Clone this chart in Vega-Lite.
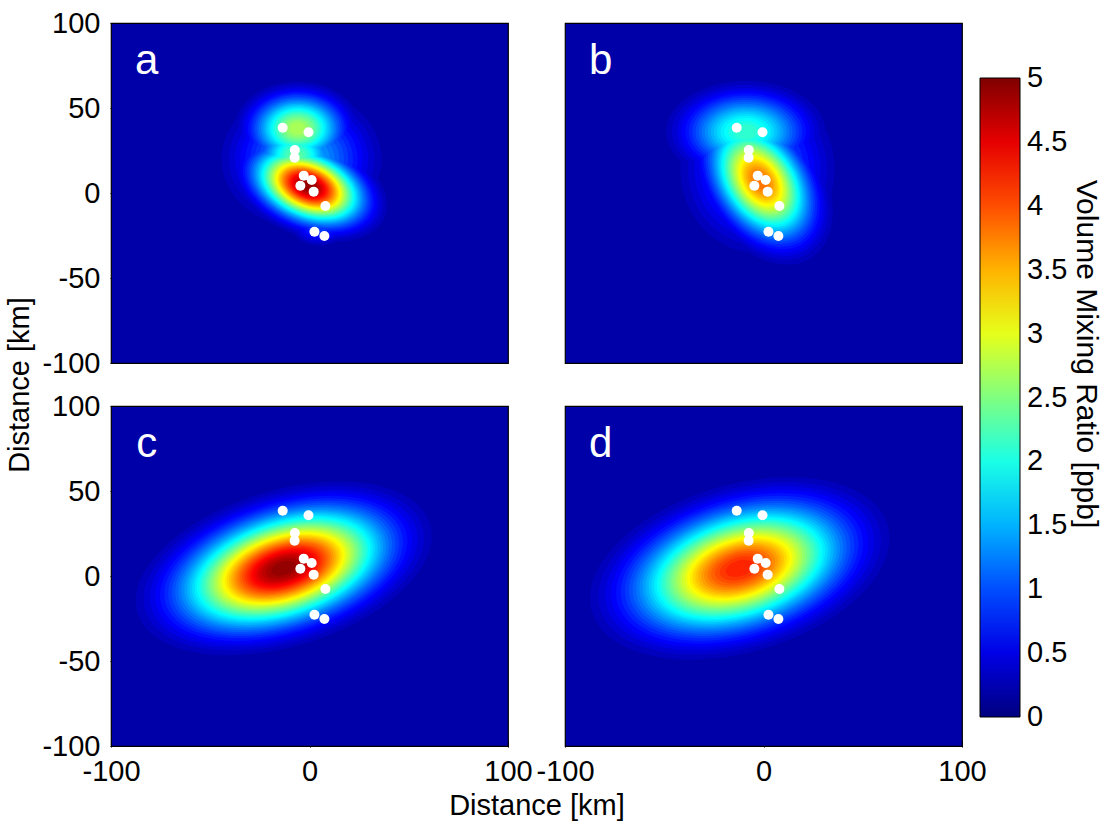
{
"$schema": "https://vega.github.io/schema/vega-lite/v6.json",
"padding": {"left": 5, "top": 9, "right": 2, "bottom": 2},
"data": {"values": [
{"row":2,"col":1,"k":"e","s":"c","x":-13,"y":4.5,"m":2.372,"v":0.3},
{"row":2,"col":1,"k":"e","s":"c","x":-13,"y":4.5,"m":2.248,"v":0.4},
{"row":2,"col":1,"k":"e","s":"c","x":-13,"y":4.5,"m":2.146,"v":0.5},
{"row":2,"col":1,"k":"e","s":"c","x":-13,"y":4.5,"m":2.059,"v":0.6},
{"row":2,"col":1,"k":"e","s":"c","x":-13,"y":4.5,"m":1.983,"v":0.7},
{"row":2,"col":1,"k":"e","s":"c","x":-13,"y":4.5,"m":1.914,"v":0.8},
{"row":2,"col":1,"k":"e","s":"c","x":-13,"y":4.5,"m":1.852,"v":0.9},
{"row":2,"col":1,"k":"e","s":"c","x":-13,"y":4.5,"m":1.794,"v":1.0},
{"row":2,"col":1,"k":"e","s":"c","x":-13,"y":4.5,"m":1.740,"v":1.1},
{"row":2,"col":1,"k":"e","s":"c","x":-13,"y":4.5,"m":1.689,"v":1.2},
{"row":2,"col":1,"k":"e","s":"c","x":-13,"y":4.5,"m":1.641,"v":1.3},
{"row":2,"col":1,"k":"e","s":"c","x":-13,"y":4.5,"m":1.596,"v":1.4},
{"row":2,"col":1,"k":"e","s":"c","x":-13,"y":4.5,"m":1.552,"v":1.5},
{"row":2,"col":1,"k":"e","s":"c","x":-13,"y":4.5,"m":1.510,"v":1.6},
{"row":2,"col":1,"k":"e","s":"c","x":-13,"y":4.5,"m":1.469,"v":1.7},
{"row":2,"col":1,"k":"e","s":"c","x":-13,"y":4.5,"m":1.429,"v":1.8},
{"row":2,"col":1,"k":"e","s":"c","x":-13,"y":4.5,"m":1.391,"v":1.9},
{"row":2,"col":1,"k":"e","s":"c","x":-13,"y":4.5,"m":1.354,"v":2.0},
{"row":2,"col":1,"k":"e","s":"c","x":-13,"y":4.5,"m":1.317,"v":2.1},
{"row":2,"col":1,"k":"e","s":"c","x":-13,"y":4.5,"m":1.281,"v":2.2},
{"row":2,"col":1,"k":"e","s":"c","x":-13,"y":4.5,"m":1.246,"v":2.3},
{"row":2,"col":1,"k":"e","s":"c","x":-13,"y":4.5,"m":1.212,"v":2.4},
{"row":2,"col":1,"k":"e","s":"c","x":-13,"y":4.5,"m":1.177,"v":2.5},
{"row":2,"col":1,"k":"e","s":"c","x":-13,"y":4.5,"m":1.144,"v":2.6},
{"row":2,"col":1,"k":"e","s":"c","x":-13,"y":4.5,"m":1.110,"v":2.7},
{"row":2,"col":1,"k":"e","s":"c","x":-13,"y":4.5,"m":1.077,"v":2.8},
{"row":2,"col":1,"k":"e","s":"c","x":-13,"y":4.5,"m":1.044,"v":2.9},
{"row":2,"col":1,"k":"e","s":"c","x":-13,"y":4.5,"m":1.011,"v":3.0},
{"row":2,"col":1,"k":"e","s":"c","x":-13,"y":4.5,"m":0.978,"v":3.1},
{"row":2,"col":1,"k":"e","s":"c","x":-13,"y":4.5,"m":0.945,"v":3.2},
{"row":2,"col":1,"k":"e","s":"c","x":-13,"y":4.5,"m":0.912,"v":3.3},
{"row":2,"col":1,"k":"e","s":"c","x":-13,"y":4.5,"m":0.878,"v":3.4},
{"row":2,"col":1,"k":"e","s":"c","x":-13,"y":4.5,"m":0.845,"v":3.5},
{"row":2,"col":1,"k":"e","s":"c","x":-13,"y":4.5,"m":0.811,"v":3.6},
{"row":2,"col":1,"k":"e","s":"c","x":-13,"y":4.5,"m":0.776,"v":3.7},
{"row":2,"col":1,"k":"e","s":"c","x":-13,"y":4.5,"m":0.741,"v":3.8},
{"row":2,"col":1,"k":"e","s":"c","x":-13,"y":4.5,"m":0.705,"v":3.9},
{"row":2,"col":1,"k":"e","s":"c","x":-13,"y":4.5,"m":0.668,"v":4.0},
{"row":2,"col":1,"k":"e","s":"c","x":-13,"y":4.5,"m":0.630,"v":4.1},
{"row":2,"col":1,"k":"e","s":"c","x":-13,"y":4.5,"m":0.591,"v":4.2},
{"row":2,"col":1,"k":"e","s":"c","x":-13,"y":4.5,"m":0.549,"v":4.3},
{"row":2,"col":1,"k":"e","s":"c","x":-13,"y":4.5,"m":0.506,"v":4.4},
{"row":2,"col":1,"k":"e","s":"c","x":-13,"y":4.5,"m":0.459,"v":4.5},
{"row":2,"col":1,"k":"e","s":"c","x":-13,"y":4.5,"m":0.408,"v":4.6},
{"row":2,"col":1,"k":"e","s":"c","x":-13,"y":4.5,"m":0.352,"v":4.7},
{"row":2,"col":1,"k":"e","s":"c","x":-13,"y":4.5,"m":0.286,"v":4.8},
{"row":2,"col":1,"k":"e","s":"c","x":-13,"y":4.5,"m":0.201,"v":4.9},
{"row":2,"col":2,"k":"e","s":"d","x":-12,"y":4.5,"m":2.308,"v":0.3},
{"row":2,"col":2,"k":"e","s":"d","x":-12,"y":4.5,"m":2.179,"v":0.4},
{"row":2,"col":2,"k":"e","s":"d","x":-12,"y":4.5,"m":2.074,"v":0.5},
{"row":2,"col":2,"k":"e","s":"d","x":-12,"y":4.5,"m":1.985,"v":0.6},
{"row":2,"col":2,"k":"e","s":"d","x":-12,"y":4.5,"m":1.905,"v":0.7},
{"row":2,"col":2,"k":"e","s":"d","x":-12,"y":4.5,"m":1.834,"v":0.8},
{"row":2,"col":2,"k":"e","s":"d","x":-12,"y":4.5,"m":1.769,"v":0.9},
{"row":2,"col":2,"k":"e","s":"d","x":-12,"y":4.5,"m":1.708,"v":1.0},
{"row":2,"col":2,"k":"e","s":"d","x":-12,"y":4.5,"m":1.651,"v":1.1},
{"row":2,"col":2,"k":"e","s":"d","x":-12,"y":4.5,"m":1.598,"v":1.2},
{"row":2,"col":2,"k":"e","s":"d","x":-12,"y":4.5,"m":1.547,"v":1.3},
{"row":2,"col":2,"k":"e","s":"d","x":-12,"y":4.5,"m":1.498,"v":1.4},
{"row":2,"col":2,"k":"e","s":"d","x":-12,"y":4.5,"m":1.451,"v":1.5},
{"row":2,"col":2,"k":"e","s":"d","x":-12,"y":4.5,"m":1.406,"v":1.6},
{"row":2,"col":2,"k":"e","s":"d","x":-12,"y":4.5,"m":1.362,"v":1.7},
{"row":2,"col":2,"k":"e","s":"d","x":-12,"y":4.5,"m":1.320,"v":1.8},
{"row":2,"col":2,"k":"e","s":"d","x":-12,"y":4.5,"m":1.278,"v":1.9},
{"row":2,"col":2,"k":"e","s":"d","x":-12,"y":4.5,"m":1.237,"v":2.0},
{"row":2,"col":2,"k":"e","s":"d","x":-12,"y":4.5,"m":1.197,"v":2.1},
{"row":2,"col":2,"k":"e","s":"d","x":-12,"y":4.5,"m":1.158,"v":2.2},
{"row":2,"col":2,"k":"e","s":"d","x":-12,"y":4.5,"m":1.119,"v":2.3},
{"row":2,"col":2,"k":"e","s":"d","x":-12,"y":4.5,"m":1.080,"v":2.4},
{"row":2,"col":2,"k":"e","s":"d","x":-12,"y":4.5,"m":1.041,"v":2.5},
{"row":2,"col":2,"k":"e","s":"d","x":-12,"y":4.5,"m":1.003,"v":2.6},
{"row":2,"col":2,"k":"e","s":"d","x":-12,"y":4.5,"m":0.965,"v":2.7},
{"row":2,"col":2,"k":"e","s":"d","x":-12,"y":4.5,"m":0.926,"v":2.8},
{"row":2,"col":2,"k":"e","s":"d","x":-12,"y":4.5,"m":0.888,"v":2.9},
{"row":2,"col":2,"k":"e","s":"d","x":-12,"y":4.5,"m":0.849,"v":3.0},
{"row":2,"col":2,"k":"e","s":"d","x":-12,"y":4.5,"m":0.809,"v":3.1},
{"row":2,"col":2,"k":"e","s":"d","x":-12,"y":4.5,"m":0.769,"v":3.2},
{"row":2,"col":2,"k":"e","s":"d","x":-12,"y":4.5,"m":0.728,"v":3.3},
{"row":2,"col":2,"k":"e","s":"d","x":-12,"y":4.5,"m":0.685,"v":3.4},
{"row":2,"col":2,"k":"e","s":"d","x":-12,"y":4.5,"m":0.642,"v":3.5},
{"row":2,"col":2,"k":"e","s":"d","x":-12,"y":4.5,"m":0.596,"v":3.6},
{"row":2,"col":2,"k":"e","s":"d","x":-12,"y":4.5,"m":0.548,"v":3.7},
{"row":2,"col":2,"k":"e","s":"d","x":-12,"y":4.5,"m":0.497,"v":3.8},
{"row":2,"col":2,"k":"e","s":"d","x":-12,"y":4.5,"m":0.442,"v":3.9},
{"row":2,"col":2,"k":"e","s":"d","x":-12,"y":4.5,"m":0.380,"v":4.0},
{"row":2,"col":2,"k":"e","s":"d","x":-12,"y":4.5,"m":0.309,"v":4.1},
{"row":2,"col":2,"k":"e","s":"d","x":-12,"y":4.5,"m":0.217,"v":4.2},
{"row":1,"col":1,"k":"e","s":"aM","x":-0.5,"y":4,"m":2.372,"v":0.3},
{"row":1,"col":1,"k":"e","s":"aM","x":-0.5,"y":4,"m":2.248,"v":0.4},
{"row":1,"col":1,"k":"e","s":"aM","x":-0.5,"y":4,"m":2.146,"v":0.5},
{"row":1,"col":1,"k":"e","s":"aM","x":-0.5,"y":4,"m":2.059,"v":0.6},
{"row":1,"col":1,"k":"e","s":"aM","x":-0.5,"y":4,"m":1.983,"v":0.7},
{"row":1,"col":1,"k":"e","s":"aM","x":-0.5,"y":4,"m":1.914,"v":0.8},
{"row":1,"col":1,"k":"e","s":"aM","x":-0.5,"y":4,"m":1.852,"v":0.9},
{"row":1,"col":1,"k":"e","s":"aM","x":-0.5,"y":4,"m":1.794,"v":1.0},
{"row":1,"col":1,"k":"e","s":"aM","x":-0.5,"y":4,"m":1.740,"v":1.1},
{"row":1,"col":1,"k":"e","s":"aM","x":-0.5,"y":4,"m":1.689,"v":1.2},
{"row":1,"col":1,"k":"e","s":"aM","x":-0.5,"y":4,"m":1.641,"v":1.3},
{"row":1,"col":1,"k":"e","s":"aM","x":-0.5,"y":4,"m":1.596,"v":1.4},
{"row":1,"col":1,"k":"e","s":"aM","x":-0.5,"y":4,"m":1.552,"v":1.5},
{"row":1,"col":1,"k":"e","s":"aM","x":-0.5,"y":4,"m":1.510,"v":1.6},
{"row":1,"col":1,"k":"e","s":"aM","x":-0.5,"y":4,"m":1.469,"v":1.7},
{"row":1,"col":1,"k":"e","s":"aM","x":-0.5,"y":4,"m":1.429,"v":1.8},
{"row":1,"col":1,"k":"e","s":"aM","x":-0.5,"y":4,"m":1.391,"v":1.9},
{"row":1,"col":1,"k":"e","s":"aM","x":-0.5,"y":4,"m":1.354,"v":2.0},
{"row":1,"col":1,"k":"e","s":"aM","x":-0.5,"y":4,"m":1.317,"v":2.1},
{"row":1,"col":1,"k":"e","s":"aM","x":-0.5,"y":4,"m":1.281,"v":2.2},
{"row":1,"col":1,"k":"e","s":"aM","x":-0.5,"y":4,"m":1.246,"v":2.3},
{"row":1,"col":1,"k":"e","s":"aM","x":-0.5,"y":4,"m":1.212,"v":2.4},
{"row":1,"col":1,"k":"e","s":"aM","x":-0.5,"y":4,"m":1.177,"v":2.5},
{"row":1,"col":1,"k":"e","s":"aM","x":-0.5,"y":4,"m":1.144,"v":2.6},
{"row":1,"col":1,"k":"e","s":"aM","x":-0.5,"y":4,"m":1.110,"v":2.7},
{"row":1,"col":1,"k":"e","s":"aM","x":-0.5,"y":4,"m":1.077,"v":2.8},
{"row":1,"col":1,"k":"e","s":"aM","x":-0.5,"y":4,"m":1.044,"v":2.9},
{"row":1,"col":1,"k":"e","s":"aM","x":-0.5,"y":4,"m":1.011,"v":3.0},
{"row":1,"col":1,"k":"e","s":"aM","x":-0.5,"y":4,"m":0.978,"v":3.1},
{"row":1,"col":1,"k":"e","s":"aM","x":-0.5,"y":4,"m":0.945,"v":3.2},
{"row":1,"col":1,"k":"e","s":"aM","x":-0.5,"y":4,"m":0.912,"v":3.3},
{"row":1,"col":1,"k":"e","s":"aM","x":-0.5,"y":4,"m":0.878,"v":3.4},
{"row":1,"col":1,"k":"e","s":"aM","x":-0.5,"y":4,"m":0.845,"v":3.5},
{"row":1,"col":1,"k":"e","s":"aM","x":-0.5,"y":4,"m":0.811,"v":3.6},
{"row":1,"col":1,"k":"e","s":"aM","x":-0.5,"y":4,"m":0.776,"v":3.7},
{"row":1,"col":1,"k":"e","s":"aM","x":-0.5,"y":4,"m":0.741,"v":3.8},
{"row":1,"col":1,"k":"e","s":"aM","x":-0.5,"y":4,"m":0.705,"v":3.9},
{"row":1,"col":1,"k":"e","s":"aM","x":-0.5,"y":4,"m":0.668,"v":4.0},
{"row":1,"col":1,"k":"e","s":"aM","x":-0.5,"y":4,"m":0.630,"v":4.1},
{"row":1,"col":1,"k":"e","s":"aM","x":-0.5,"y":4,"m":0.591,"v":4.2},
{"row":1,"col":1,"k":"e","s":"aM","x":-0.5,"y":4,"m":0.549,"v":4.3},
{"row":1,"col":1,"k":"e","s":"aM","x":-0.5,"y":4,"m":0.506,"v":4.4},
{"row":1,"col":1,"k":"e","s":"aM","x":-0.5,"y":4,"m":0.459,"v":4.5},
{"row":1,"col":1,"k":"e","s":"aM","x":-0.5,"y":4,"m":0.408,"v":4.6},
{"row":1,"col":1,"k":"e","s":"aM","x":-0.5,"y":4,"m":0.352,"v":4.7},
{"row":1,"col":1,"k":"e","s":"aM","x":-0.5,"y":4,"m":0.286,"v":4.8},
{"row":1,"col":1,"k":"e","s":"aM","x":-0.5,"y":4,"m":0.201,"v":4.9},
{"row":1,"col":1,"k":"e","s":"aU","x":-6,"y":38,"m":2.114,"v":0.3},
{"row":1,"col":1,"k":"e","s":"aU","x":-6,"y":38,"m":1.973,"v":0.4},
{"row":1,"col":1,"k":"e","s":"aU","x":-6,"y":38,"m":1.856,"v":0.5},
{"row":1,"col":1,"k":"e","s":"aU","x":-6,"y":38,"m":1.755,"v":0.6},
{"row":1,"col":1,"k":"e","s":"aU","x":-6,"y":38,"m":1.665,"v":0.7},
{"row":1,"col":1,"k":"e","s":"aU","x":-6,"y":38,"m":1.583,"v":0.8},
{"row":1,"col":1,"k":"e","s":"aU","x":-6,"y":38,"m":1.507,"v":0.9},
{"row":1,"col":1,"k":"e","s":"aU","x":-6,"y":38,"m":1.435,"v":1.0},
{"row":1,"col":1,"k":"e","s":"aU","x":-6,"y":38,"m":1.367,"v":1.1},
{"row":1,"col":1,"k":"e","s":"aU","x":-6,"y":38,"m":1.302,"v":1.2},
{"row":1,"col":1,"k":"e","s":"aU","x":-6,"y":38,"m":1.239,"v":1.3},
{"row":1,"col":1,"k":"e","s":"aU","x":-6,"y":38,"m":1.177,"v":1.4},
{"row":1,"col":1,"k":"e","s":"aU","x":-6,"y":38,"m":1.117,"v":1.5},
{"row":1,"col":1,"k":"e","s":"aU","x":-6,"y":38,"m":1.058,"v":1.6},
{"row":1,"col":1,"k":"e","s":"aU","x":-6,"y":38,"m":0.999,"v":1.7},
{"row":1,"col":1,"k":"e","s":"aU","x":-6,"y":38,"m":0.940,"v":1.8},
{"row":1,"col":1,"k":"e","s":"aU","x":-6,"y":38,"m":0.881,"v":1.9},
{"row":1,"col":1,"k":"e","s":"aU","x":-6,"y":38,"m":0.820,"v":2.0},
{"row":1,"col":1,"k":"e","s":"aU","x":-6,"y":38,"m":0.759,"v":2.1},
{"row":1,"col":1,"k":"e","s":"aU","x":-6,"y":38,"m":0.694,"v":2.2},
{"row":1,"col":1,"k":"e","s":"aU","x":-6,"y":38,"m":0.627,"v":2.3},
{"row":1,"col":1,"k":"e","s":"aU","x":-6,"y":38,"m":0.555,"v":2.4},
{"row":1,"col":1,"k":"e","s":"aU","x":-6,"y":38,"m":0.476,"v":2.5},
{"row":1,"col":1,"k":"e","s":"aU","x":-6,"y":38,"m":0.385,"v":2.6},
{"row":1,"col":1,"k":"e","s":"aU","x":-6,"y":38,"m":0.269,"v":2.7},
{"row":1,"col":1,"k":"e","s":"aC","x":-7,"y":22,"m":1.665,"v":0.6},
{"row":1,"col":1,"k":"e","s":"aC","x":-7,"y":22,"m":1.570,"v":0.7},
{"row":1,"col":1,"k":"e","s":"aC","x":-7,"y":22,"m":1.482,"v":0.8},
{"row":1,"col":1,"k":"e","s":"aC","x":-7,"y":22,"m":1.401,"v":0.9},
{"row":1,"col":1,"k":"e","s":"aC","x":-7,"y":22,"m":1.323,"v":1.0},
{"row":1,"col":1,"k":"e","s":"aC","x":-7,"y":22,"m":1.249,"v":1.1},
{"row":1,"col":1,"k":"e","s":"aC","x":-7,"y":22,"m":1.177,"v":1.2},
{"row":1,"col":1,"k":"e","s":"aC","x":-7,"y":22,"m":1.107,"v":1.3},
{"row":1,"col":1,"k":"e","s":"aC","x":-7,"y":22,"m":1.038,"v":1.4},
{"row":1,"col":1,"k":"e","s":"aC","x":-7,"y":22,"m":0.970,"v":1.5},
{"row":1,"col":1,"k":"e","s":"aC","x":-7,"y":22,"m":0.901,"v":1.6},
{"row":1,"col":1,"k":"e","s":"aC","x":-7,"y":22,"m":0.831,"v":1.7},
{"row":1,"col":1,"k":"e","s":"aC","x":-7,"y":22,"m":0.759,"v":1.8},
{"row":1,"col":1,"k":"e","s":"aC","x":-7,"y":22,"m":0.684,"v":1.9},
{"row":1,"col":1,"k":"e","s":"aC","x":-7,"y":22,"m":0.604,"v":2.0},
{"row":1,"col":1,"k":"e","s":"aC","x":-7,"y":22,"m":0.517,"v":2.1},
{"row":1,"col":1,"k":"e","s":"aC","x":-7,"y":22,"m":0.417,"v":2.2},
{"row":1,"col":1,"k":"e","s":"aC","x":-7,"y":22,"m":0.292,"v":2.3},
{"row":1,"col":1,"k":"e","s":"aB","x":-4,"y":20,"m":1.830,"v":0.3},
{"row":1,"col":1,"k":"e","s":"aB","x":-4,"y":20,"m":1.665,"v":0.4},
{"row":1,"col":1,"k":"e","s":"aB","x":-4,"y":20,"m":1.525,"v":0.5},
{"row":1,"col":1,"k":"e","s":"aB","x":-4,"y":20,"m":1.401,"v":0.6},
{"row":1,"col":1,"k":"e","s":"aB","x":-4,"y":20,"m":1.286,"v":0.7},
{"row":1,"col":1,"k":"e","s":"aB","x":-4,"y":20,"m":1.177,"v":0.8},
{"row":1,"col":1,"k":"e","s":"aB","x":-4,"y":20,"m":1.073,"v":0.9},
{"row":1,"col":1,"k":"e","s":"aB","x":-4,"y":20,"m":0.970,"v":1.0},
{"row":1,"col":1,"k":"e","s":"aB","x":-4,"y":20,"m":0.866,"v":1.1},
{"row":1,"col":1,"k":"e","s":"aB","x":-4,"y":20,"m":0.759,"v":1.2},
{"row":1,"col":1,"k":"e","s":"aB","x":-4,"y":20,"m":0.644,"v":1.3},
{"row":1,"col":1,"k":"e","s":"aB","x":-4,"y":20,"m":0.517,"v":1.4},
{"row":1,"col":1,"k":"e","s":"aB","x":-4,"y":20,"m":0.359,"v":1.5},
{"row":1,"col":1,"k":"e","s":"aT","x":5,"y":-20,"m":1.552,"v":0.3},
{"row":1,"col":1,"k":"e","s":"aT","x":5,"y":-20,"m":1.354,"v":0.4},
{"row":1,"col":1,"k":"e","s":"aT","x":5,"y":-20,"m":1.177,"v":0.5},
{"row":1,"col":1,"k":"e","s":"aT","x":5,"y":-20,"m":1.011,"v":0.6},
{"row":1,"col":1,"k":"e","s":"aT","x":5,"y":-20,"m":0.845,"v":0.7},
{"row":1,"col":1,"k":"e","s":"aT","x":5,"y":-20,"m":0.668,"v":0.8},
{"row":1,"col":1,"k":"e","s":"aT","x":5,"y":-20,"m":0.459,"v":0.9},
{"row":1,"col":2,"k":"e","s":"bM","x":-1.5,"y":7,"m":2.265,"v":0.3},
{"row":1,"col":2,"k":"e","s":"bM","x":-1.5,"y":7,"m":2.134,"v":0.4},
{"row":1,"col":2,"k":"e","s":"bM","x":-1.5,"y":7,"m":2.027,"v":0.5},
{"row":1,"col":2,"k":"e","s":"bM","x":-1.5,"y":7,"m":1.935,"v":0.6},
{"row":1,"col":2,"k":"e","s":"bM","x":-1.5,"y":7,"m":1.853,"v":0.7},
{"row":1,"col":2,"k":"e","s":"bM","x":-1.5,"y":7,"m":1.780,"v":0.8},
{"row":1,"col":2,"k":"e","s":"bM","x":-1.5,"y":7,"m":1.713,"v":0.9},
{"row":1,"col":2,"k":"e","s":"bM","x":-1.5,"y":7,"m":1.650,"v":1.0},
{"row":1,"col":2,"k":"e","s":"bM","x":-1.5,"y":7,"m":1.591,"v":1.1},
{"row":1,"col":2,"k":"e","s":"bM","x":-1.5,"y":7,"m":1.535,"v":1.2},
{"row":1,"col":2,"k":"e","s":"bM","x":-1.5,"y":7,"m":1.482,"v":1.3},
{"row":1,"col":2,"k":"e","s":"bM","x":-1.5,"y":7,"m":1.431,"v":1.4},
{"row":1,"col":2,"k":"e","s":"bM","x":-1.5,"y":7,"m":1.382,"v":1.5},
{"row":1,"col":2,"k":"e","s":"bM","x":-1.5,"y":7,"m":1.335,"v":1.6},
{"row":1,"col":2,"k":"e","s":"bM","x":-1.5,"y":7,"m":1.289,"v":1.7},
{"row":1,"col":2,"k":"e","s":"bM","x":-1.5,"y":7,"m":1.244,"v":1.8},
{"row":1,"col":2,"k":"e","s":"bM","x":-1.5,"y":7,"m":1.199,"v":1.9},
{"row":1,"col":2,"k":"e","s":"bM","x":-1.5,"y":7,"m":1.156,"v":2.0},
{"row":1,"col":2,"k":"e","s":"bM","x":-1.5,"y":7,"m":1.113,"v":2.1},
{"row":1,"col":2,"k":"e","s":"bM","x":-1.5,"y":7,"m":1.070,"v":2.2},
{"row":1,"col":2,"k":"e","s":"bM","x":-1.5,"y":7,"m":1.028,"v":2.3},
{"row":1,"col":2,"k":"e","s":"bM","x":-1.5,"y":7,"m":0.985,"v":2.4},
{"row":1,"col":2,"k":"e","s":"bM","x":-1.5,"y":7,"m":0.943,"v":2.5},
{"row":1,"col":2,"k":"e","s":"bM","x":-1.5,"y":7,"m":0.901,"v":2.6},
{"row":1,"col":2,"k":"e","s":"bM","x":-1.5,"y":7,"m":0.858,"v":2.7},
{"row":1,"col":2,"k":"e","s":"bM","x":-1.5,"y":7,"m":0.814,"v":2.8},
{"row":1,"col":2,"k":"e","s":"bM","x":-1.5,"y":7,"m":0.770,"v":2.9},
{"row":1,"col":2,"k":"e","s":"bM","x":-1.5,"y":7,"m":0.724,"v":3.0},
{"row":1,"col":2,"k":"e","s":"bM","x":-1.5,"y":7,"m":0.678,"v":3.1},
{"row":1,"col":2,"k":"e","s":"bM","x":-1.5,"y":7,"m":0.629,"v":3.2},
{"row":1,"col":2,"k":"e","s":"bM","x":-1.5,"y":7,"m":0.578,"v":3.3},
{"row":1,"col":2,"k":"e","s":"bM","x":-1.5,"y":7,"m":0.524,"v":3.4},
{"row":1,"col":2,"k":"e","s":"bM","x":-1.5,"y":7,"m":0.465,"v":3.5},
{"row":1,"col":2,"k":"e","s":"bM","x":-1.5,"y":7,"m":0.400,"v":3.6},
{"row":1,"col":2,"k":"e","s":"bM","x":-1.5,"y":7,"m":0.325,"v":3.7},
{"row":1,"col":2,"k":"e","s":"bM","x":-1.5,"y":7,"m":0.228,"v":3.8},
{"row":1,"col":2,"k":"e","s":"bU","x":-9,"y":36,"m":1.996,"v":0.3},
{"row":1,"col":2,"k":"e","s":"bU","x":-9,"y":36,"m":1.847,"v":0.4},
{"row":1,"col":2,"k":"e","s":"bU","x":-9,"y":36,"m":1.721,"v":0.5},
{"row":1,"col":2,"k":"e","s":"bU","x":-9,"y":36,"m":1.612,"v":0.6},
{"row":1,"col":2,"k":"e","s":"bU","x":-9,"y":36,"m":1.513,"v":0.7},
{"row":1,"col":2,"k":"e","s":"bU","x":-9,"y":36,"m":1.422,"v":0.8},
{"row":1,"col":2,"k":"e","s":"bU","x":-9,"y":36,"m":1.337,"v":0.9},
{"row":1,"col":2,"k":"e","s":"bU","x":-9,"y":36,"m":1.256,"v":1.0},
{"row":1,"col":2,"k":"e","s":"bU","x":-9,"y":36,"m":1.177,"v":1.1},
{"row":1,"col":2,"k":"e","s":"bU","x":-9,"y":36,"m":1.101,"v":1.2},
{"row":1,"col":2,"k":"e","s":"bU","x":-9,"y":36,"m":1.026,"v":1.3},
{"row":1,"col":2,"k":"e","s":"bU","x":-9,"y":36,"m":0.951,"v":1.4},
{"row":1,"col":2,"k":"e","s":"bU","x":-9,"y":36,"m":0.875,"v":1.5},
{"row":1,"col":2,"k":"e","s":"bU","x":-9,"y":36,"m":0.798,"v":1.6},
{"row":1,"col":2,"k":"e","s":"bU","x":-9,"y":36,"m":0.718,"v":1.7},
{"row":1,"col":2,"k":"e","s":"bU","x":-9,"y":36,"m":0.634,"v":1.8},
{"row":1,"col":2,"k":"e","s":"bU","x":-9,"y":36,"m":0.541,"v":1.9},
{"row":1,"col":2,"k":"e","s":"bU","x":-9,"y":36,"m":0.437,"v":2.0},
{"row":1,"col":2,"k":"e","s":"bU","x":-9,"y":36,"m":0.305,"v":2.1},
{"row":1,"col":2,"k":"e","s":"bB","x":-3,"y":14,"m":1.755,"v":0.3},
{"row":1,"col":2,"k":"e","s":"bB","x":-3,"y":14,"m":1.583,"v":0.4},
{"row":1,"col":2,"k":"e","s":"bB","x":-3,"y":14,"m":1.435,"v":0.5},
{"row":1,"col":2,"k":"e","s":"bB","x":-3,"y":14,"m":1.302,"v":0.6},
{"row":1,"col":2,"k":"e","s":"bB","x":-3,"y":14,"m":1.177,"v":0.7},
{"row":1,"col":2,"k":"e","s":"bB","x":-3,"y":14,"m":1.058,"v":0.8},
{"row":1,"col":2,"k":"e","s":"bB","x":-3,"y":14,"m":0.940,"v":0.9},
{"row":1,"col":2,"k":"e","s":"bB","x":-3,"y":14,"m":0.820,"v":1.0},
{"row":1,"col":2,"k":"e","s":"bB","x":-3,"y":14,"m":0.694,"v":1.1},
{"row":1,"col":2,"k":"e","s":"bB","x":-3,"y":14,"m":0.555,"v":1.2},
{"row":1,"col":2,"k":"e","s":"bB","x":-3,"y":14,"m":0.385,"v":1.3},
{"row":1,"col":1,"k":"p","x":-13.5,"y":38.4},{"row":1,"col":1,"k":"p","x":-0.5,"y":35.7},{"row":1,"col":1,"k":"p","x":-7.4,"y":25.3},{"row":1,"col":1,"k":"p","x":-7.5,"y":20.8},{"row":1,"col":1,"k":"p","x":-2.9,"y":10.2},{"row":1,"col":1,"k":"p","x":1.1,"y":7.6},{"row":1,"col":1,"k":"p","x":-4.6,"y":4.3},{"row":1,"col":1,"k":"p","x":2.1,"y":0.8},{"row":1,"col":1,"k":"p","x":8,"y":-7.6},{"row":1,"col":1,"k":"p","x":2.5,"y":-22.8},{"row":1,"col":1,"k":"p","x":7.5,"y":-25.3},
{"row":1,"col":2,"k":"p","x":-13.5,"y":38.4},{"row":1,"col":2,"k":"p","x":-0.5,"y":35.7},{"row":1,"col":2,"k":"p","x":-7.4,"y":25.3},{"row":1,"col":2,"k":"p","x":-7.5,"y":20.8},{"row":1,"col":2,"k":"p","x":-2.9,"y":10.2},{"row":1,"col":2,"k":"p","x":1.1,"y":7.6},{"row":1,"col":2,"k":"p","x":-4.6,"y":4.3},{"row":1,"col":2,"k":"p","x":2.1,"y":0.8},{"row":1,"col":2,"k":"p","x":8,"y":-7.6},{"row":1,"col":2,"k":"p","x":2.5,"y":-22.8},{"row":1,"col":2,"k":"p","x":7.5,"y":-25.3},
{"row":2,"col":1,"k":"p","x":-13.5,"y":38.4},{"row":2,"col":1,"k":"p","x":-0.5,"y":35.7},{"row":2,"col":1,"k":"p","x":-7.4,"y":25.3},{"row":2,"col":1,"k":"p","x":-7.5,"y":20.8},{"row":2,"col":1,"k":"p","x":-2.9,"y":10.2},{"row":2,"col":1,"k":"p","x":1.1,"y":7.6},{"row":2,"col":1,"k":"p","x":-4.6,"y":4.3},{"row":2,"col":1,"k":"p","x":2.1,"y":0.8},{"row":2,"col":1,"k":"p","x":8,"y":-7.6},{"row":2,"col":1,"k":"p","x":2.5,"y":-22.8},{"row":2,"col":1,"k":"p","x":7.5,"y":-25.3},
{"row":2,"col":2,"k":"p","x":-13.5,"y":38.4},{"row":2,"col":2,"k":"p","x":-0.5,"y":35.7},{"row":2,"col":2,"k":"p","x":-7.4,"y":25.3},{"row":2,"col":2,"k":"p","x":-7.5,"y":20.8},{"row":2,"col":2,"k":"p","x":-2.9,"y":10.2},{"row":2,"col":2,"k":"p","x":1.1,"y":7.6},{"row":2,"col":2,"k":"p","x":-4.6,"y":4.3},{"row":2,"col":2,"k":"p","x":2.1,"y":0.8},{"row":2,"col":2,"k":"p","x":8,"y":-7.6},{"row":2,"col":2,"k":"p","x":2.5,"y":-22.8},{"row":2,"col":2,"k":"p","x":7.5,"y":-25.3},
{"row":1,"col":1,"k":"t","x":-82,"y":70,"t":"a"},
{"row":1,"col":2,"k":"t","x":-82,"y":70,"t":"b"},
{"row":2,"col":1,"k":"t","x":-82,"y":70,"t":"c"},
{"row":2,"col":2,"k":"t","x":-82,"y":70,"t":"d"}
]},
"facet": {
  "row": {"field": "row", "type": "ordinal", "header": {"title": "Distance [km]", "labels": false, "labelPadding": 0, "titlePadding": -4}},
  "column": {"field": "col", "type": "ordinal", "header": {"title": "Distance [km]", "labels": false, "labelPadding": 0, "titleOrient": "bottom", "titlePadding": -4}}
},
"spacing": {"row": 41, "column": 55},
"spec": {
  "width": 397,
  "height": 340,
  "encoding": {
    "x": {"field": "x", "type": "quantitative", "scale": {"domain": [-100, 100], "nice": false, "zero": false}, "axis": {"title": null, "values": [-100, 0, 100], "labelExpr": "'' + datum.value"}},
    "y": {"field": "y", "type": "quantitative", "scale": {"domain": [-100, 100], "nice": false, "zero": false}, "axis": {"title": null, "values": [-100, -50, 0, 50, 100], "labelExpr": "'' + datum.value"}}
  },
  "layer": [
    {
      "transform": [{"filter": "datum.k === 'e'"}],
      "mark": {"type": "point", "filled": true, "opacity": 1, "strokeWidth": 0, "clip": true},
      "encoding": {
        "color": {"field": "v", "type": "quantitative",
          "scale": {"domain": [-0.002, 0.625, 1.875, 3.125, 4.375, 5.002], "range": ["#000080", "#0000ff", "#00ffff", "#ffff00", "#ff0000", "#800000"], "interpolate": "rgb"},
          "legend": {"orient": "none", "legendX": 869, "legendY": 55, "direction": "vertical", "gradientLength": 639, "gradientThickness": 40,
            "gradientStrokeColor": "black", "gradientStrokeWidth": 1, "values": [0, 0.5, 1, 1.5, 2, 2.5, 3, 3.5, 4, 4.5, 5], "format": "~g",
            "labelFontSize": 29, "labelFont": "Liberation Sans", "labelColor": "black", "labelOffset": 7, "labelOverlap": false,
            "title": "Volume Mixing Ratio [ppb]\u2800\u2800\u2800\u2800", "titleOrient": "right", "titleAngle": 90, "titleFontSize": 30, "titleFont": "Liberation Sans",
            "titleFontWeight": "normal", "titleColor": "black", "titleAnchor": "middle", "titlePadding": 4, "titleLimit": 1000, "padding": 0}},
        "size": {"field": "m", "type": "quantitative", "scale": {"type": "pow", "exponent": 2, "domain": [0, 3], "range": [0, 147456]}, "legend": null},
        "shape": {"field": "s", "type": "nominal", "legend": null, "scale": {
          "domain": ["c", "d", "aM", "aU", "aC", "aT", "bM", "bU", "aB", "bB"],
          "range": [
            "M0.949,-0.328C0.827,-0.587,0.303,-0.649,-0.221,-0.468C-0.745,-0.287,-1.071,0.07,-0.949,0.328C-0.827,0.587,-0.303,0.649,0.221,0.468C0.745,0.287,1.071,-0.07,0.949,-0.328Z",
            "M0.983,-0.338C0.848,-0.624,0.298,-0.704,-0.245,-0.517C-0.788,-0.33,-1.118,0.053,-0.983,0.338C-0.848,0.624,-0.298,0.704,0.245,0.517C0.788,0.33,1.118,-0.053,0.983,-0.338Z",
            "M0.483,0.239C0.586,0.087,0.453,-0.144,0.186,-0.276C-0.081,-0.408,-0.38,-0.392,-0.483,-0.239C-0.586,-0.087,-0.453,0.144,-0.186,0.276C0.081,0.408,0.38,0.392,0.483,0.239Z",
            "M0.465,0C0.465,-0.191,0.257,-0.345,0,-0.345C-0.257,-0.345,-0.465,-0.191,-0.465,0C-0.465,0.191,-0.257,0.345,0,0.345C0.257,0.345,0.465,0.191,0.465,0Z",
            "M0.403,0C0.403,-0.176,0.223,-0.319,0,-0.319C-0.223,-0.319,-0.403,-0.176,-0.403,0C-0.403,0.176,-0.223,0.319,0,0.319C0.223,0.319,0.403,0.176,0.403,0Z",
            "M0.279,0C0.279,-0.103,0.154,-0.186,0,-0.186C-0.154,-0.186,-0.279,-0.103,-0.279,0C-0.279,0.103,-0.154,0.186,0,0.186C0.154,0.186,0.279,0.103,0.279,0Z",
            "M0.303,0.554C0.521,0.467,0.563,0.149,0.396,-0.157C0.228,-0.463,-0.085,-0.641,-0.303,-0.554C-0.521,-0.467,-0.563,-0.149,-0.396,0.157C-0.228,0.463,0.085,0.641,0.303,0.554Z",
            "M0.623,0C0.623,-0.22,0.344,-0.398,0,-0.398C-0.344,-0.398,-0.623,-0.22,-0.623,0C-0.623,0.22,-0.344,0.398,0,0.398C0.344,0.398,0.623,0.22,0.623,0Z",
            "M0.682,0C0.682,-0.323,0.377,-0.584,0,-0.584C-0.377,-0.584,-0.682,-0.323,-0.682,0C-0.682,0.323,-0.377,0.584,0,0.584C0.377,0.584,0.682,0.323,0.682,0Z",
            "M0.686,0C0.686,-0.411,0.379,-0.744,0,-0.744C-0.379,-0.744,-0.686,-0.411,-0.686,0C-0.686,0.411,-0.379,0.744,0,0.744C0.379,0.744,0.686,0.411,0.686,0Z"
          ]}},
        "order": {"field": "v", "type": "quantitative", "sort": "ascending"}
      }
    },
    {
      "transform": [{"filter": "datum.k === 'p'"}],
      "mark": {"type": "circle", "color": "white", "opacity": 1, "size": 100, "clip": true}
    },
    {
      "transform": [{"filter": "datum.k === 't'"}],
      "mark": {"type": "text", "color": "white", "fontSize": 42, "font": "Liberation Sans", "align": "center", "baseline": "alphabetic"},
      "encoding": {"text": {"field": "t", "type": "nominal"}}
    }
  ]
},
"config": {
  "font": "Liberation Sans",
  "view": {"stroke": "black", "strokeWidth": 1.2, "fill": "#0000a9"},
  "axis": {"labelFont": "Liberation Sans", "labelFontSize": 29, "labelColor": "black", "domain": false, "ticks": true, "tickSize": -6, "tickColor": "black", "tickWidth": 1, "grid": false, "labelFlush": false, "labelOverlap": false, "labelPadding": 16},
  "header": {"titleFont": "Liberation Sans", "titleFontSize": 29, "titleFontWeight": "normal", "titleColor": "black"}
}
}
